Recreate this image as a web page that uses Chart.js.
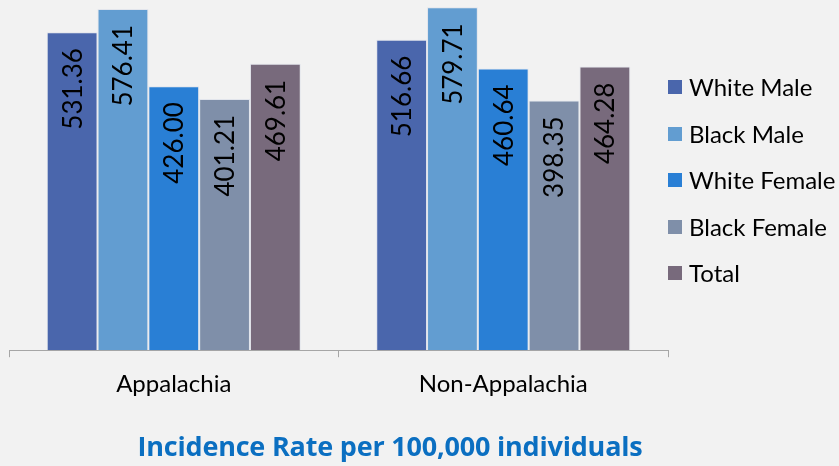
<!DOCTYPE html>
<html>
<head>
<meta charset="utf-8">
<script src="https://cdn.jsdelivr.net/npm/chart.js@4.4.0/dist/chart.umd.min.js"></script>
<style>
  html, body { margin: 0; padding: 0; background: #f2f2f2; overflow: hidden; }
  #wrap { position: relative; width: 839px; height: 466px; }
  #legend { position: absolute; left: 668px; top: 74px; margin: 0; padding: 0; list-style: none; white-space: nowrap;
    font-family: Lato, 'Open Sans', sans-serif; font-size: 24px; color: #000; }
  #legend li { height: 46.6px; display: flex; align-items: flex-start; line-height: 25px; }
  #legend span.box { width: 14px; height: 14px; margin: 6px 7px 0 0; flex: none; }
  #title { position: absolute; left: 0; width: 780px; top: 427px; text-align: center; letter-spacing: -0.2px;
    font-family: 'Open Sans', sans-serif; font-weight: bold; font-size: 27px; color: #0b6fc1; }
</style>
</head>
<body>
<div id="wrap">
  <canvas id="c-chart-bar1" width="839" height="466"></canvas>
  <ul id="legend"></ul>
  <div id="title">Incidence Rate per 100,000 individuals</div>
</div>
<script>
var regions = ['Appalachia', 'Non-Appalachia']
var seriesNames = ['White Male', 'Black Male', 'White Female', 'Black Female', 'Total']
var whiteMale = [531.36, 516.66]
var blackMale = [576.41, 579.71]
var whiteFemale = [426.00, 460.64]
var blackFemale = [401.21, 398.35]
var total = [469.61, 464.28]
var seriesColors = ['#4a66ac', '#629dd1', '#297fd5', '#7f8fa9', '#786a7c']

// value axis is truncated and hidden, bars start from its minimum
var axisMin = -88.5
var axisMax = 594

var seriesValues = [whiteMale, blackMale, whiteFemale, blackFemale, total]

var valueLabels = {
  id: 'valueLabels',
  afterDatasetsDraw: function (chart) {
    var ctx = chart.ctx
    ctx.save()
    ctx.fillStyle = '#000'
    ctx.font = '26px "Liberation Sans Narrow", Lato, sans-serif'
    ctx.textAlign = 'right'
    ctx.textBaseline = 'middle'
    chart.data.datasets.forEach(function (ds, i) {
      chart.getDatasetMeta(i).data.forEach(function (bar, j) {
        ctx.save()
        ctx.translate(bar.x, bar.y + 16)
        ctx.rotate(-Math.PI / 2)
        ctx.fillText(ds.data[j].toFixed(2), 0, 1)
        ctx.restore()
      })
    })
    ctx.restore()
  }
}

var ctx = document.getElementById('c-chart-bar1').getContext('2d')
var chart = new Chart(ctx, {
  type: 'bar',
  data: {
    labels: regions,
    datasets: seriesNames.map(function (name, i) {
      return {
        label: name,
        data: seriesValues[i],
        backgroundColor: seriesColors[i],
        borderColor: 'rgba(215,220,232,0.6)',
        borderWidth: 1,
        base: axisMin,
        barPercentage: 1,
        categoryPercentage: 0.771
      }
    })
  },
  options: {
    responsive: false,
    animation: false,
    layout: { padding: { left: 9, right: 171, top: 0, bottom: 54 } },
    plugins: {
      legend: { display: false },
      title: { display: false },
      tooltip: { enabled: false }
    },
    scales: {
      x: {
        grid: { drawOnChartArea: false, tickLength: 7, color: '#a6a6a6' },
        border: { color: '#a6a6a6', width: 1 },
        ticks: { color: '#000', padding: 13, font: { family: 'Lato', size: 24 } }
      },
      y: { display: false, min: axisMin, max: axisMax }
    }
  },
  plugins: [valueLabels]
})

var legend = document.getElementById('legend')
chart.data.datasets.forEach(function (ds) {
  var li = document.createElement('li')
  var box = document.createElement('span')
  box.className = 'box'
  box.style.background = ds.backgroundColor
  li.appendChild(box)
  li.appendChild(document.createTextNode(ds.label))
  legend.appendChild(li)
})
</script>
</body>
</html>
